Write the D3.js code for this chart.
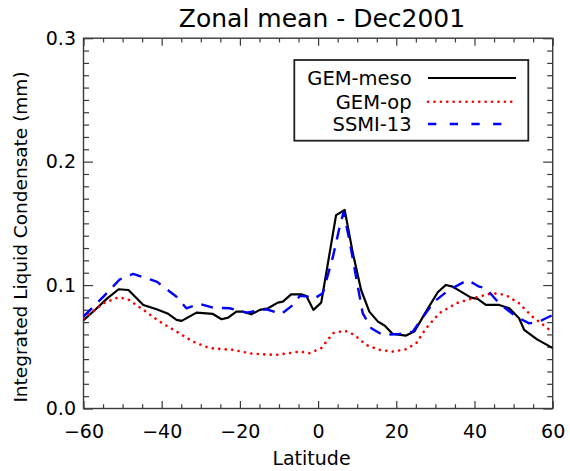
<!DOCTYPE html>
<html>
<head>
<meta charset="utf-8">
<script src="https://cdn.jsdelivr.net/npm/d3@7"></script>
<style>
  html, body { margin: 0; padding: 0; background: #fff; }
  svg { display: block; }
  text { font-family: "DejaVu Sans", sans-serif; fill: #000; }
</style>
</head>
<body>
<svg id="chart" width="570" height="471"></svg>
<script>
// ---------- data ----------
const chartTitle = "Zonal mean - Dec2001";
const xLabel = "Latitude";
const yLabel = "Integrated Liquid Condensate (mm)";
const seriesNames = ["GEM-meso", "GEM-op", "SSMI-13"];
const xTicks = [-60, -40, -20, 0, 20, 40, 60];
const yTicks = [0.0, 0.1, 0.2, 0.3];

const mesoLat = [-60,-57,-54,-51,-48.5,-44.7,-41.3,-38.5,-36.2,-34.9,-31.1,-26.9,-24.7,-23.0,-20.9,-19.2,-17.1,-14.9,-12.8,-10.3,-9.0,-6.9,-4.3,-3.0,-1.2,0.8,4.6,6.8,8.9,11.0,13.1,15.3,17.0,19.1,22.5,24.6,27.6,30.6,32.7,34.4,39.1,40.8,42.9,46.3,48.9,51.4,52.7,56,60];
const meso = [0.0715,0.080,0.089,0.0966,0.0960,0.0839,0.0804,0.077,0.0718,0.0710,0.0777,0.0766,0.0723,0.0736,0.0785,0.0785,0.0763,0.0799,0.0812,0.0858,0.0866,0.0925,0.0925,0.0912,0.0799,0.0858,0.1567,0.1608,0.1257,0.0960,0.0785,0.0704,0.0672,0.0604,0.0591,0.0623,0.0785,0.0942,0.1001,0.0987,0.0898,0.0888,0.0839,0.0839,0.0812,0.0731,0.0637,0.056,0.0489];

const opLat = [-60,-54.9,-51.1,-48.6,-44.7,-40.5,-36.2,-32.0,-27.7,-21.8,-16.7,-10.7,-4.7,-2.2,0.8,3.8,6.8,9.3,12.3,15.7,19.1,22.5,25.1,27.6,31.0,35.3,39.5,44.6,48.0,51.4,54.8,58.2,60];
const op = [0.073,0.0852,0.0901,0.0885,0.0799,0.0704,0.0623,0.0542,0.0489,0.0475,0.0443,0.0434,0.0461,0.0448,0.0489,0.061,0.0631,0.0596,0.0515,0.0475,0.0461,0.048,0.0529,0.065,0.0772,0.0852,0.0893,0.0934,0.092,0.0852,0.0745,0.0663,0.0615];

const ssmiLat = [-60,-54.9,-50.7,-47.3,-41.3,-36.2,-33.7,-30.3,-26.9,-22.6,-18.3,-13.2,-9.4,-6.4,-4.7,-2.6,-1.3,1.2,3.8,5.5,6.5,8.0,9.7,11.4,13.6,16.5,20.8,24.2,27.2,29.7,33.1,38.2,41.2,42.9,46.3,50.6,54.0,56.5,60];
const ssmi = [0.0745,0.0906,0.1047,0.109,0.1028,0.0906,0.0812,0.0847,0.0817,0.0812,0.0777,0.0804,0.0766,0.0839,0.0912,0.0906,0.0885,0.0934,0.123,0.147,0.159,0.1365,0.1068,0.0772,0.065,0.0596,0.0604,0.0623,0.0758,0.0866,0.0952,0.1041,0.0987,0.0974,0.0852,0.0745,0.069,0.0704,0.0758];

// ---------- layout ----------
const L = 83.5, R = 552.7, T = 38.2, B = 408.5;
const svg = d3.select("#chart");
const x = d3.scaleLinear().domain([-60, 60]).range([L, R]);
const y = d3.scaleLinear().domain([0, 0.3]).range([B, T]);

const styles = [
  { color: "#000000", width: 2.2, dash: null, cap: "butt", legendDash: null, legendEnd: 516 },
  { color: "#ff0000", width: 2.6, dash: "0.1,6.4", cap: "round", legendDash: "0.1,6.3", legendEnd: 516 },
  { color: "#0000ff", width: 2.4, dash: "12,9", cap: "butt", legendDash: "8.3,13.4", legendEnd: 503 }
];
const series = [
  d3.zip(mesoLat, meso),
  d3.zip(opLat, op),
  d3.zip(ssmiLat, ssmi)
];

// clip
svg.append("clipPath").attr("id", "clip")
  .append("rect").attr("x", L).attr("y", T).attr("width", R - L).attr("height", B - T);

// ---------- axes ----------
const frameColor = "#3a3a3a";
const minorX = d3.range(-60, 60.01, 5).filter(v => v % 20 !== 0);
const minorY = d3.range(0, 0.3001, 0.01).map(v => +v.toFixed(2)).filter(v => Math.round(v * 100) % 10 !== 0);

function styleAxis(g) {
  g.select(".domain").remove();
  g.selectAll("line").attr("stroke", frameColor).attr("stroke-width", 1.2);
}

// bottom
svg.append("g").attr("transform", `translate(0,${B})`)
  .call(d3.axisBottom(x).tickValues(xTicks).tickSizeInner(-7.5).tickSizeOuter(0).tickPadding(16.5).tickFormat(d3.format("d")))
  .call(styleAxis)
  .selectAll("text").attr("font-size", 19).attr("font-family", "DejaVu Sans").attr("fill", "#000");
svg.append("g").attr("transform", `translate(0,${B})`)
  .call(d3.axisBottom(x).tickValues(minorX).tickSizeInner(-4.2).tickSizeOuter(0).tickFormat(""))
  .call(styleAxis);
// top
svg.append("g").attr("transform", `translate(0,${T})`)
  .call(d3.axisTop(x).tickValues(xTicks).tickSizeInner(-7.5).tickSizeOuter(0).tickFormat(""))
  .call(styleAxis);
svg.append("g").attr("transform", `translate(0,${T})`)
  .call(d3.axisTop(x).tickValues(minorX).tickSizeInner(-4.2).tickSizeOuter(0).tickFormat(""))
  .call(styleAxis);
// left
svg.append("g").attr("transform", `translate(${L},0)`)
  .call(d3.axisLeft(y).tickValues(yTicks).tickSizeInner(-9.5).tickSizeOuter(0).tickPadding(7.5).tickFormat(d3.format(".1f")))
  .call(styleAxis)
  .selectAll("text").attr("font-size", 19).attr("font-family", "DejaVu Sans").attr("fill", "#000");
svg.append("g").attr("transform", `translate(${L},0)`)
  .call(d3.axisLeft(y).tickValues(minorY).tickSizeInner(-5.5).tickSizeOuter(0).tickFormat(""))
  .call(styleAxis);
// right
svg.append("g").attr("transform", `translate(${R},0)`)
  .call(d3.axisRight(y).tickValues(yTicks).tickSizeInner(-9.5).tickSizeOuter(0).tickFormat(""))
  .call(styleAxis);
svg.append("g").attr("transform", `translate(${R},0)`)
  .call(d3.axisRight(y).tickValues(minorY).tickSizeInner(-5.5).tickSizeOuter(0).tickFormat(""))
  .call(styleAxis);

// frame
svg.append("rect").attr("x", L).attr("y", T).attr("width", R - L).attr("height", B - T)
  .attr("fill", "none").attr("stroke", frameColor).attr("stroke-width", 1.4);

// ---------- lines ----------
const line = d3.line().x(d => x(d[0])).y(d => y(d[1]));
const lineG = svg.append("g").attr("clip-path", "url(#clip)");
series.forEach((s, i) => {
  const st = styles[i];
  lineG.append("path").datum(s)
    .attr("d", line)
    .attr("fill", "none")
    .attr("stroke", st.color)
    .attr("stroke-width", st.width)
    .attr("stroke-linejoin", "round")
    .attr("stroke-linecap", st.cap)
    .attr("stroke-dasharray", st.dash);
});

// ---------- legend ----------
const lg = svg.append("g");
lg.append("rect").attr("x", 294.3).attr("y", 60).attr("width", 234).attr("height", 80.7)
  .attr("fill", "#fff").attr("stroke", "#222").attr("stroke-width", 1.8);
const rowY = [78, 101.7, 124];
seriesNames.forEach((name, i) => {
  const st = styles[i];
  lg.append("text").attr("x", 411.7).attr("y", rowY[i]).attr("dy", "0.36em")
    .attr("text-anchor", "end").attr("font-size", 19.5).text(name);
  lg.append("line").attr("x1", 428).attr("x2", st.legendEnd).attr("y1", rowY[i]).attr("y2", rowY[i])
    .attr("stroke", st.color).attr("stroke-width", st.width)
    .attr("stroke-linecap", st.cap).attr("stroke-dasharray", st.legendDash);
});

// ---------- titles ----------
svg.append("text").attr("x", 322).attr("y", 26.7).attr("text-anchor", "middle")
  .attr("font-size", 25).text(chartTitle);
svg.append("text").attr("x", 311.5).attr("y", 465).attr("text-anchor", "middle")
  .attr("font-size", 19).text(xLabel);
svg.append("text").attr("transform", "translate(27,237) rotate(-90)")
  .attr("text-anchor", "middle").attr("font-size", 18.5).text(yLabel);
</script>
</body>
</html>
